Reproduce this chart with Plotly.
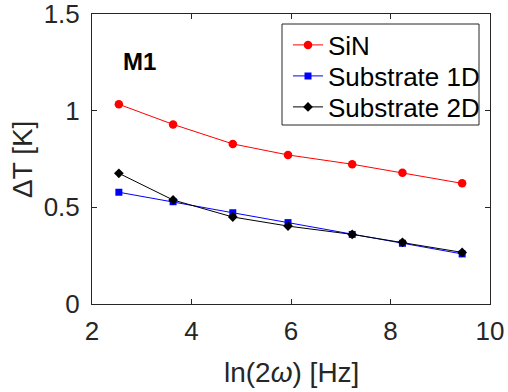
import plotly.graph_objects as go

x_vals = [2.54, 3.63, 4.83, 5.94, 7.23, 8.24, 9.44]
sin_vals = [1.033, 0.929, 0.828, 0.771, 0.723, 0.679, 0.624]
sub1d_vals = [0.578, 0.529, 0.472, 0.421, 0.360, 0.314, 0.259]
sub2d_vals = [0.676, 0.538, 0.450, 0.403, 0.360, 0.319, 0.267]
series_names = ["SiN", "Substrate 1D", "Substrate 2D"]
x_ticks = [2, 4, 6, 8, 10]
y_ticks = [0, 0.5, 1, 1.5]
y_tick_text = ["0", "0.5", "1", "1.5"]

FONT = "Liberation Sans, Arial, Helvetica, sans-serif"
AX = "#262626"

fig = go.Figure()
fig.add_trace(go.Scatter(x=x_vals, y=sin_vals, name=series_names[0], mode="lines+markers",
                         line=dict(color="#ff0000", width=1), legend="legend",
                         marker=dict(symbol="circle", size=8.5, color="#ff0000")))
fig.add_trace(go.Scatter(x=x_vals, y=sub1d_vals, name=series_names[1], mode="lines+markers",
                         line=dict(color="#0000ff", width=1), legend="legend2",
                         marker=dict(symbol="square", size=7, color="#0000ff")))
fig.add_trace(go.Scatter(x=x_vals, y=sub2d_vals, name=series_names[2], mode="lines+markers",
                         line=dict(color="#000000", width=1), legend="legend3",
                         marker=dict(symbol="diamond", size=7.5, color="#000000")))

fig.add_annotation(x=2.945, y=1.252, xref="x", yref="y", text="<b>M1</b>",
                   showarrow=False, font=dict(family=FONT, size=24, color="#000000"),
                   xanchor="center", yanchor="middle")
# axis titles
fig.add_annotation(x=0.5, y=-0.235, xref="paper", yref="paper", text="ln(2<i>ω</i>) [Hz]",
                   showarrow=False, font=dict(family=FONT, size=28, color=AX),
                   xanchor="center", yanchor="middle")
fig.add_annotation(x=-0.176, y=0.5, xref="paper", yref="paper", text="ΔT [K]", textangle=-90,
                   showarrow=False, font=dict(family=FONT, size=28, color=AX),
                   xanchor="center", yanchor="middle")

# legend box
fig.add_shape(type="rect", xref="paper", yref="paper", x0=0.4774, x1=0.9724, y0=0.6172, y1=0.9655,
              line=dict(color=AX, width=1), fillcolor="white", layer="above")

def leg(yc):
    return dict(x=(288 - 92) / 398, y=(304 - yc) / 290, xanchor="left", yanchor="middle",
                bgcolor="rgba(0,0,0,0)", borderwidth=0,
                font=dict(family=FONT, size=26, color="#000000"), itemwidth=30)

fig.update_layout(
    width=508, height=392,
    margin=dict(l=92, r=18, t=14, b=88, autoexpand=False),
    paper_bgcolor="white", plot_bgcolor="white",
    font=dict(family=FONT, size=26, color=AX),
    showlegend=True,
    legend=leg(45), legend2=leg(76), legend3=leg(107),
)
fig.update_xaxes(range=[2, 10], tickvals=x_ticks, ticks="inside", ticklen=5,
                 tickcolor=AX, showline=True, linecolor=AX, linewidth=1,
                 mirror="allticks", showgrid=False, zeroline=False, automargin=False,
                 ticklabeloverflow="allow",
                 tickfont=dict(family=FONT, size=26, color=AX), ticklabelstandoff=4)
fig.update_yaxes(range=[0, 1.5], tickvals=y_ticks, ticktext=y_tick_text, ticks="inside", ticklen=5,
                 tickcolor=AX, showline=True, linecolor=AX, linewidth=1,
                 mirror="allticks", showgrid=False, zeroline=False, automargin=False,
                 ticklabeloverflow="allow",
                 tickfont=dict(family=FONT, size=26, color=AX), ticklabelstandoff=6)

fig.write_html("out.html", config={"displayModeBar": False},
               post_script="document.body.style.margin='0px';document.body.style.overflow='hidden';")
